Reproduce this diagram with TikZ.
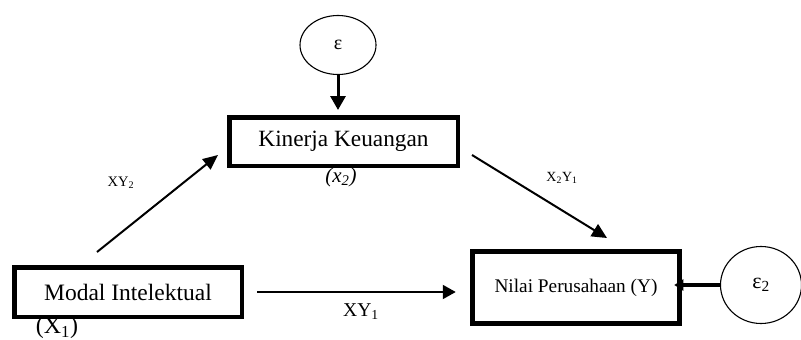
\documentclass[tikz,border=0pt]{standalone}
\usepackage{fontspec}
\setmainfont{Liberation Serif}
\usetikzlibrary{arrows.meta,shapes.geometric}
\begin{document}
\begin{tikzpicture}[x=1pt,y=-1pt,
  box/.style={draw,line width=4.5pt,inner sep=0pt},
  errnode/.style={draw,ellipse,line width=1.1pt,inner sep=0pt},
  path/.style={draw,line width=2pt,-{Triangle[length=15pt,width=13pt]}},
  lbl/.style={inner sep=0pt}]
\useasboundingbox (0,0) rectangle (801,340);
% boxes
\node[box,minimum width=227.5pt,minimum height=49.5pt,font=\fontsize{23.5}{28}\selectfont] (modal) at (128,292) {Modal Intelektual\hspace{16pt}};
\node[box,minimum width=228.5pt,minimum height=48.5pt,font=\fontsize{23.3}{28}\selectfont] (kin) at (343.5,141.5) {Kinerja Keuangan};
\node[box,minimum width=207pt,minimum height=72pt,font=\fontsize{19.3}{23}\selectfont] (nilai) at (576,287.5) {Nilai Perusahaan (Y)};
% error terms
\node[errnode,minimum width=76pt,minimum height=59pt,font=\fontsize{20}{24}\selectfont] (eps) at (338,45) {ε};
\node[errnode,minimum width=81pt,minimum height=77pt,font=\fontsize{22}{26}\selectfont] (eps2) at (761,285) {ε\textsubscript{2}};
% labels
\node[lbl,font=\fontsize{24}{28}\selectfont] (x1) at (57,328) {(X\textsubscript{1})};
\node[lbl,font=\fontsize{21}{25}\selectfont\itshape] (x2) at (341,177) {(x\textsubscript{2})};
\node[lbl,font=\fontsize{14.5}{17}\selectfont] (lxy2) at (121,183) {XY\textsubscript{2}};
\node[lbl,font=\fontsize{14}{17}\selectfont] (lx2y1) at (562,178) {X\textsubscript{2}Y\textsubscript{1}};
\node[lbl,font=\fontsize{19.6}{23}\selectfont] (lxy1) at (361,312) {XY\textsubscript{1}};
% connector end points
\coordinate (m1) at (97,252);
\coordinate (k1) at (218,155);
\coordinate (k2) at (472,155);
\coordinate (n1) at (607,238);
% connectors
\draw[path] (m1) -- (k1);
\draw[path,-{Triangle[length=15pt,width=14pt]}] (k2) -- (n1);
\draw[path,-{Triangle[length=13pt,width=14pt]},shorten <=13pt,shorten >=14.5pt] (modal.east) -- (modal.east -| nilai.west);
\draw[line width=3pt,-{Triangle[length=14pt,width=15pt]},shorten >=5pt] (eps.south) -- (eps.south |- kin.north);
\draw[line width=4pt,-{Triangle[length=9pt,width=11pt]},shorten >=-7.5pt] (eps2.west) -- (eps2.west -| nilai.east);
\end{tikzpicture}
\end{document}
